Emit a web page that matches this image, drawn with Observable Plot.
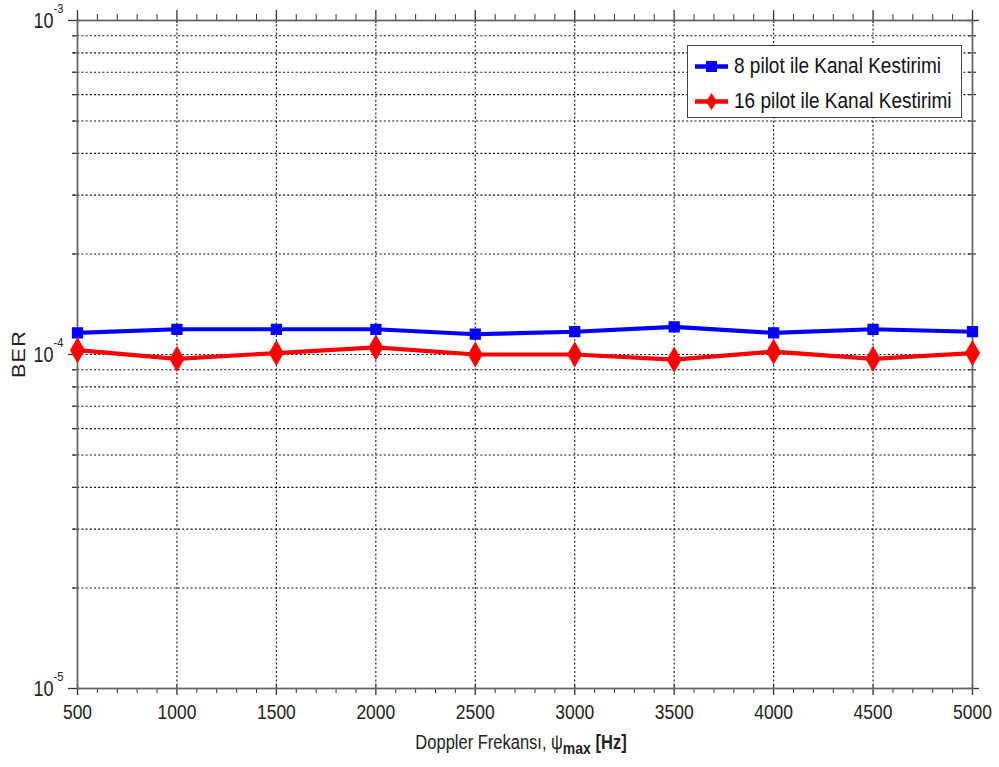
<!DOCTYPE html>
<html><head><meta charset="utf-8">
<script src="https://cdn.jsdelivr.net/npm/d3@7"></script>
<script src="https://cdn.jsdelivr.net/npm/@observablehq/plot@0.6"></script>
<style>
body{margin:0;background:#fff;font-family:"Liberation Sans",Arial,sans-serif;}
#wrap{position:relative;width:999px;height:767px;background:#fff;}
#legend{position:absolute;left:687px;top:45px;width:275px;height:73px;border:1.5px solid #444;background:#fff;box-sizing:border-box;}
.lrow{position:absolute;left:0;height:30px;display:flex;align-items:center;font-size:19px;color:#111;white-space:nowrap;}
.lrow span{display:inline-block;transform:scaleY(1.2);}
.lrow svg{margin-left:6px;margin-right:4px;}
#xlabel{position:absolute;left:0;width:1042px;top:733px;text-align:center;font-size:16.5px;color:#222;transform:scaleY(1.2);}
#ylabel{position:absolute;left:19px;top:354px;transform:translate(-50%,-50%) rotate(-90deg) scaleX(1.2);font-size:18px;color:#222;letter-spacing:1px;}
</style></head><body><div id="wrap"></div>
<script>
// ---- data ----
const freqs = [500, 1000, 1500, 2000, 2500, 3000, 3500, 4000, 4500, 5000];
const ber8pilot  = [1.16e-4, 1.19e-4, 1.19e-4, 1.19e-4, 1.15e-4, 1.17e-4, 1.21e-4, 1.16e-4, 1.19e-4, 1.17e-4];
const ber16pilot = [1.03e-4, 0.97e-4, 1.01e-4, 1.05e-4, 1.00e-4, 1.00e-4, 0.965e-4, 1.02e-4, 0.97e-4, 1.01e-4];
const seriesNames = ["8 pilot ile Kanal Kestirimi", "16 pilot ile Kanal Kestirimi"];
const seriesColors = ["#0000ff", "#ff0000"];
const xTicks = [500, 1000, 1500, 2000, 2500, 3000, 3500, 4000, 4500, 5000];
const yMajor = [1e-5, 1e-4, 1e-3];
const yTickBase = ["10", "10", "10"];
const yTickExp = ["-5", "-4", "-3"];
const xLabelMain = "Doppler Frekansı, ψ";
const xLabelSub = "max";
const xLabelUnit = " [Hz]";
const yLabel = "BER";

// ---- derived ----
const W = 999, H = 767, mL = 77, mR = 27, mT = 20, mB = 79;
const innerW = W - mL - mR, innerH = H - mT - mB;
const minorY = [];
for (const d of [1e-5, 1e-4]) for (let k = 2; k <= 9; k++) minorY.push(k * d);
const gridY = minorY.concat([1e-4]);
const minorX = d3.range(500, 5001, 100).filter(v => v % 500 !== 0);
const data = [];
freqs.forEach((f, i) => {
  data.push({f, ber: ber8pilot[i], s: seriesNames[0]});
  data.push({f, ber: ber16pilot[i], s: seriesNames[1]});
});
const d8 = data.filter(d => d.s === seriesNames[0]);
const d16 = data.filter(d => d.s === seriesNames[1]);
const tickColor = "#333";

const chart = Plot.plot({
  width: W, height: H,
  marginLeft: mL, marginRight: mR, marginTop: mT, marginBottom: mB,
  style: {background: "transparent", fontFamily: '"Liberation Sans", Arial, sans-serif', color: "#222"},
  x: {domain: [500, 5000], axis: null},
  y: {type: "log", domain: [1e-5, 1e-3], axis: null},
  color: {domain: seriesNames, range: seriesColors},
  marks: [
    // grid
    Plot.ruleY(gridY, {y: d => d, stroke: "#111", strokeWidth: 1.1, strokeDasharray: "2,2.2", insetLeft: -4}),
    Plot.ruleX(xTicks.slice(1, -1), {x: d => d, stroke: "#111", strokeWidth: 1.1, strokeDasharray: "2,2.2"}),
    // x ticks bottom & top
    Plot.tickX(xTicks, {x: d => d, stroke: tickColor, strokeWidth: 1.3, insetTop: innerH - 3, insetBottom: -7}),
    Plot.tickX(minorX, {x: d => d, stroke: tickColor, strokeWidth: 1, insetTop: innerH, insetBottom: -5}),
    Plot.tickX(xTicks, {x: d => d, stroke: tickColor, strokeWidth: 1.3, insetBottom: innerH - 3, insetTop: -10}),
    Plot.tickX(minorX, {x: d => d, stroke: tickColor, strokeWidth: 1, insetBottom: innerH, insetTop: -6}),
    // y ticks left & right
    Plot.tickY(yMajor, {y: d => d, stroke: tickColor, strokeWidth: 1.3, insetRight: innerW - 3, insetLeft: -9}),
    Plot.tickY(minorY, {y: d => d, stroke: tickColor, strokeWidth: 1.2, insetRight: innerW, insetLeft: -5}),
    Plot.tickY(yMajor, {y: d => d, stroke: tickColor, strokeWidth: 1.3, insetLeft: innerW - 5, insetRight: -7}),
    Plot.tickY(minorY, {y: d => d, stroke: tickColor, strokeWidth: 1.2, insetLeft: innerW - 4, insetRight: -4}),
    // frame
    Plot.frame({stroke: "#666", strokeWidth: 1.8}),
    // data
    Plot.line(data, {x: "f", y: "ber", z: "s", stroke: "s", strokeWidth: 4.2, strokeLinejoin: "round"}),
    Plot.dot(d8, {x: "f", y: "ber", fill: seriesColors[0], stroke: seriesColors[0], symbol: "square", r: 5.5}),
    Plot.dot(d16, {x: "f", y: "ber", fill: seriesColors[1], stroke: seriesColors[1], symbol: "diamond", r: 7}),
    // tick labels
    Plot.text(xTicks, {x: d => d, frameAnchor: "bottom", dy: 30, text: d => String(d), fontSize: 17.5, fill: "#222"}),
    Plot.text(yMajor, {y: d => d, frameAnchor: "left", dx: -24, dy: 1, textAnchor: "end", text: (d, i) => yTickBase[i], fontSize: 18, fill: "#222"}),
    Plot.text(yMajor, {y: d => d, frameAnchor: "left", dx: -24, dy: -12, textAnchor: "start", text: (d, i) => yTickExp[i], fontSize: 11, fill: "#222"})
  ]
});

// stretch SVG texts vertically (reference image text is taller than wide)
d3.select(chart).selectAll("text").each(function () {
  const t = this.getAttribute("transform");
  if (t && t.includes("translate")) {
    this.setAttribute("transform", t + " scale(1,1.2)");
  } else {
    const x = +(this.getAttribute("x") || 0), y = +(this.getAttribute("y") || 0);
    this.setAttribute("transform", `translate(${x},${y}) scale(1,1.2) translate(${-x},${-y})`);
  }
});

const wrap = document.getElementById("wrap");
wrap.appendChild(chart);

// legend
const legend = document.createElement("div");
legend.id = "legend";
seriesNames.forEach((name, i) => {
  const row = document.createElement("div");
  row.className = "lrow";
  row.style.top = (5 + i * 35) + "px";
  const sym = i === 0
    ? `<rect x="12" y="6" width="11" height="11" fill="${seriesColors[i]}"/>`
    : `<path d="M17.5,3 L23,11.5 L17.5,20 L12,11.5Z" fill="${seriesColors[i]}"/>`;
  row.innerHTML = `<svg width="36" height="23"><line x1="1" x2="34" y1="11.5" y2="11.5" stroke="${seriesColors[i]}" stroke-width="4.5"/>${sym}</svg><span>${name}</span>`;
  legend.appendChild(row);
});
wrap.appendChild(legend);

// axis labels
const xl = document.createElement("div");
xl.id = "xlabel";
xl.innerHTML = `${xLabelMain}<sub style="font-weight:bold;font-size:14px">${xLabelSub}</sub><b>${xLabelUnit}</b>`;
wrap.appendChild(xl);
const yl = document.createElement("div");
yl.id = "ylabel";
yl.textContent = yLabel;
wrap.appendChild(yl);
</script>
</body></html>
